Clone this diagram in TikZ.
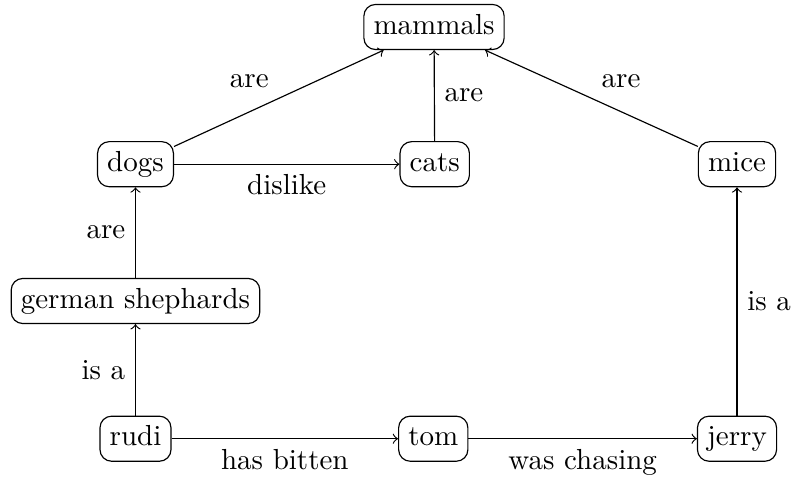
\documentclass[tikz,border=0pt]{standalone}
\begin{document}
\begin{tikzpicture}[x=1pt,y=1pt,
  concept/.style={draw, rounded corners, text height=6.94pt, text depth=1.94pt, inner sep=3.33pt},
  link/.style={->}]
\useasboundingbox (0,0) rectangle (273.1,-165.2);
\node[concept] (mammals) at (149.66,-9.31) {mammals};
\node[concept] (dogs) at (46.72,-56.62) {dogs};
\node[concept] (cats) at (149.9,-56.62) {cats};
\node[concept] (mice) at (254.14,-56.62) {mice};
\node[concept] (gs) at (46.72,-103.79) {german shephards};
\node[concept] (rudi) at (46.72,-151.28) {rudi};
\node[concept] (tom) at (149.4,-151.28) {tom};
\node[concept] (jerry) at (254.14,-151.28) {jerry};
\draw[link] (dogs) -- node[above left] {are} (mammals);
\draw[link] (cats) -- node[right] {are} (mammals);
\draw[link] (mice) -- node[above right] {are} (mammals);
\draw[link] (dogs) -- node[below] {dislike} (cats);
\draw[link] (gs) -- node[left] {are} (dogs);
\draw[link] (rudi) -- node[left] {is a} (gs);
\draw[link] (rudi) -- node[below] {has bitten} (tom);
\draw[link] (tom) -- node[below] {was chasing} (jerry);
\draw[link] (jerry) -- node[right] {is a} (mice);
\end{tikzpicture}
\end{document}
